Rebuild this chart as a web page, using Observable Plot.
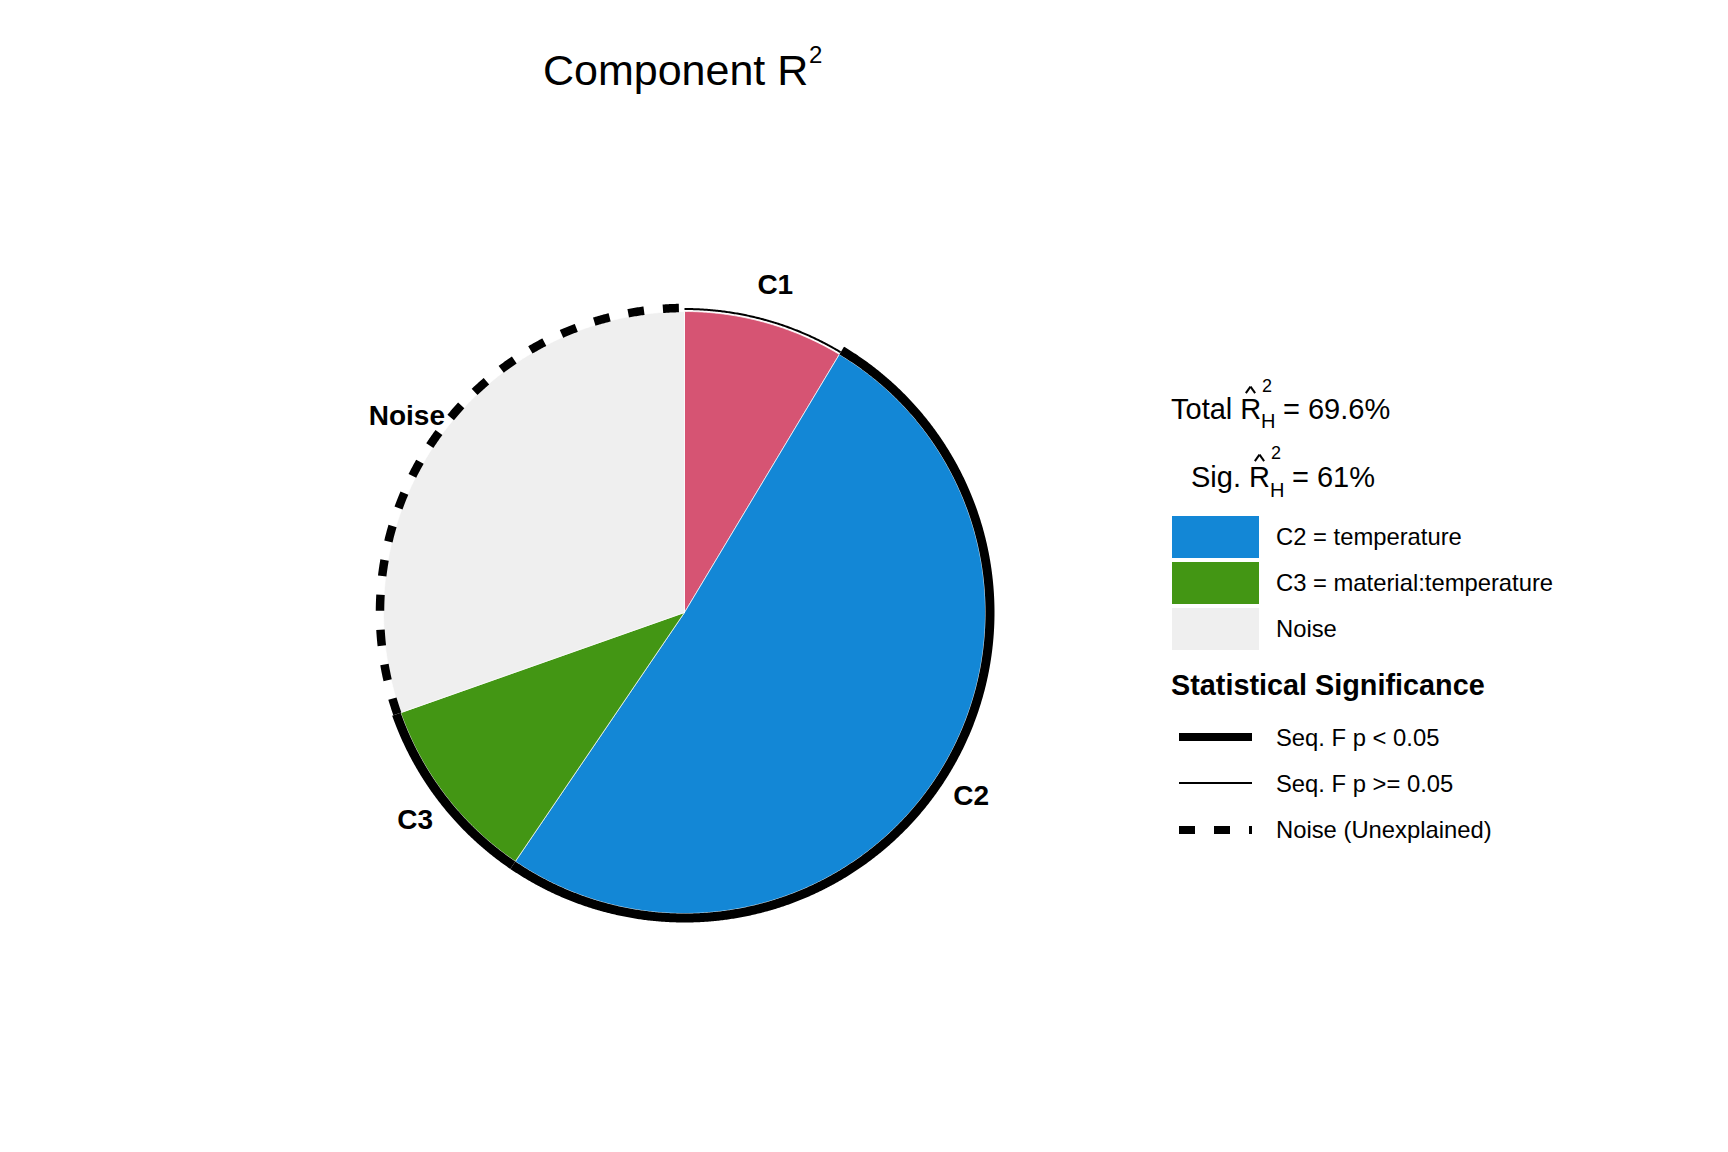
<!DOCTYPE html>
<html>
<head>
<meta charset="utf-8">
<script src="https://cdn.jsdelivr.net/npm/d3@7"></script>
<script src="https://cdn.jsdelivr.net/npm/@observablehq/plot@0.6"></script>
<style>
  body { margin: 0; background: #fff; font-family: "Liberation Sans", Arial, sans-serif; }
  #wrap { position: relative; width: 1728px; height: 1152px; overflow: hidden; }
  #chart { position: absolute; left: 0; top: 0; }
  .abs { position: absolute; line-height: 1; white-space: nowrap; color: #000; }
</style>
</head>
<body>
<div id="wrap"><div id="chart"></div></div>
<script>
// ---- data ----
const components = ["C1", "C2", "C3", "Noise"];
const shares = [8.6, 50.9, 10.1, 30.4];           // percent of total variance
const significance = ["ns", "sig", "sig", "noise"];
const colors = ["#D65473", "#1387D6", "#439614", "#EFEFEF"];
const legendComponents = ["C2", "C3", "Noise"];
const legendLabels = ["C2 = temperature", "C3 = material:temperature", "Noise"];
const sigKinds = ["sig", "ns", "noise"];
const sigLabels = ["Seq. F p < 0.05", "Seq. F p >= 0.05", "Noise (Unexplained)"];
const totalR2 = "69.6";
const sigR2 = "61";

// ---- geometry derived from data ----
const W = 1728, H = 1152, CX = 684, CY = 612, RPX = 301;
const rad = d => d * Math.PI / 180;
let cum = 0;
const slices = components.map((name, i) => {
  const a0 = cum / 100 * 360;
  cum += shares[i];
  const a1 = cum / 100 * 360;
  return {name, a0, a1, sig: significance[i]};
});
const step = 0.25;
function arcPts(s, r) {
  const pts = [];
  const n = Math.max(2, Math.ceil((s.a1 - s.a0) / step));
  for (let k = 0; k <= n; k++) {
    const a = s.a0 + (s.a1 - s.a0) * k / n;
    pts.push({name: s.name, sig: s.sig, x: r * Math.sin(rad(a)), y: r * Math.cos(rad(a))});
  }
  return pts;
}
const slicePts = slices.flatMap(s => [
  {name: s.name, x: 0, y: 0}, ...arcPts(s, 1), {name: s.name, x: 0, y: 0}
]);
const thickArcs = slices.filter(s => s.sig === "sig").flatMap(s => arcPts(s, 1 + 4.5 / RPX));
const thinArcs = slices.filter(s => s.sig === "ns").flatMap(s => arcPts(s, 1 + 2.5 / RPX));
const noiseArcs = slices.filter(s => s.sig === "noise").flatMap(s => arcPts(s, 1 + 3.5 / RPX));
const labels = slices.map(s => {
  const m = (s.a0 + s.a1) / 2;
  return {name: s.name, x: 1.13 * Math.sin(rad(m)), y: 1.13 * Math.cos(rad(m))};
});

const chart = Plot.plot({
  width: W, height: H, margin: 0,
  style: {fontFamily: "Liberation Sans, Arial, sans-serif", background: "transparent"},
  x: {domain: [-CX / RPX, (W - CX) / RPX], axis: null},
  y: {domain: [-(H - CY) / RPX, CY / RPX], axis: null},
  color: {domain: components, range: colors},
  marks: [
    Plot.line(slicePts, {x: "x", y: "y", z: "name", fill: "name", stroke: "white", strokeWidth: 0.7, curve: "linear"}),
    Plot.line(thickArcs, {x: "x", y: "y", z: "name", stroke: "black", strokeWidth: 9, strokeLinecap: "butt"}),
    Plot.line(thinArcs, {x: "x", y: "y", z: "name", stroke: "black", strokeWidth: 2, strokeLinecap: "butt"}),
    Plot.line(noiseArcs, {x: "x", y: "y", z: "name", stroke: "black", strokeWidth: 8.5, strokeLinecap: "butt", strokeDasharray: "16,19"}),
    Plot.text(labels, {x: "x", y: "y", text: "name", fontWeight: "bold", fontSize: 28, fill: "black"})
  ]
});
document.getElementById("chart").appendChild(chart);

// ---- title and legend (HTML) ----
const wrap = document.getElementById("wrap");
function txt(str, left, baseline, fs, extra = {}) {
  const d = document.createElement("div");
  d.className = "abs";
  d.textContent = str;
  d.style.fontSize = fs + "px";
  d.style.left = left + "px";
  d.style.top = (baseline - 0.8465 * fs) + "px";
  Object.assign(d.style, extra);
  wrap.appendChild(d);
  return d;
}
// Title
const t = txt("Component R", 543, 85, 43);
txt("2", 543 + t.offsetWidth + 1, 63, 24);

// Stat lines with R-hat, subscript H, superscript 2
function statLine(prefix, value, left, baseline, supOff, subOff) {
  const fs = 29;
  const p = txt(prefix + " R", left, baseline, fs);
  const w = p.offsetWidth;
  const rw = 0.722 * fs;
  // hat
  const hat = document.createElement("div");
  hat.className = "abs";
  hat.style.left = (left + w - rw / 2 - 6.5) + "px";
  hat.style.top = (baseline - 34) + "px";
  hat.style.width = "12px"; hat.style.height = "8px";
  const l1 = document.createElement("div"), l2 = document.createElement("div");
  [l1, l2].forEach((l, i) => {
    l.style.position = "absolute"; l.style.width = "8px"; l.style.height = "1.6px";
    l.style.background = "#000"; l.style.top = "3px";
    l.style.left = i === 0 ? "-0.5px" : "4.5px";
    l.style.transform = i === 0 ? "rotate(-55deg)" : "rotate(55deg)";
  });
  hat.appendChild(l1); hat.appendChild(l2);
  wrap.appendChild(hat);
  txt("2", left + w + 1, baseline + supOff, 18);
  txt("H", left + w, baseline + subOff, 20);
  txt("= " + value + "%", left + w + 22, baseline, fs);
}
statLine("Total", totalR2, 1171, 420, -28, 8);
statLine("Sig.", sigR2, 1191, 488, -29, 9);

// Fill legend
const swatchTops = [516, 562, 608];
legendComponents.forEach((c, i) => {
  const sw = document.createElement("div");
  sw.className = "abs";
  Object.assign(sw.style, {left: "1172px", top: swatchTops[i] + "px", width: "87px", height: "42px",
    background: colors[components.indexOf(c)]});
  wrap.appendChild(sw);
  txt(legendLabels[i], 1276, swatchTops[i] + 29, 23.8);
});

// Significance legend
txt("Statistical Significance", 1171, 695, 28.8, {fontWeight: "bold"});
const lineYs = [737, 783, 830];
const lineBase = [746.5, 792, 838];
sigKinds.forEach((k, i) => {
  const ln = document.createElement("div");
  ln.className = "abs";
  const h = k === "ns" ? 2 : 8;
  Object.assign(ln.style, {left: "1179px", width: "73px", top: (lineYs[i] - h / 2) + "px", height: h + "px"});
  ln.style.background = k === "noise"
    ? "repeating-linear-gradient(to right, #000 0px, #000 16px, transparent 16px, transparent 35px)"
    : "#000";
  wrap.appendChild(ln);
  txt(sigLabels[i], 1276, lineBase[i], 23.8);
});
</script>
</body>
</html>
